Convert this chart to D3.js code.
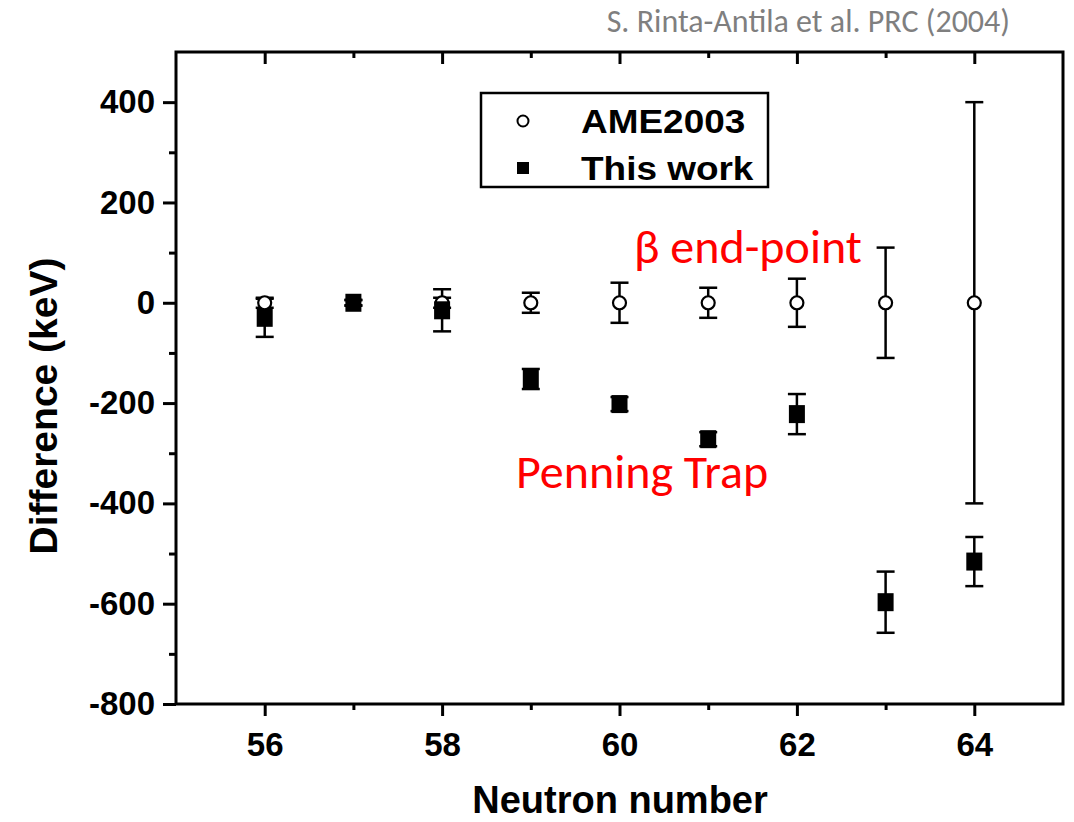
<!DOCTYPE html>
<html>
<head>
<meta charset="utf-8">
<script src="https://cdn.jsdelivr.net/npm/d3@7"></script>
<style>
  html, body { margin: 0; padding: 0; background: #fff; }
  svg { display: block; }
</style>
</head>
<body>
<svg id="chart" width="1074" height="822"></svg>
<script>
// ---- data ----
const neutrons = [56, 57, 58, 59, 60, 61, 62, 63, 64];
const ameValues = [0, 0, 0, 0, 0, 0, 0, 0, 0];
const ameErrors = [10, 5, 10, 20, 40, 30, 48, 110, 400];
const workValues = [-30, 0, -15, -152, -202, -272, -222, -597, -516];
const workErrors = [38, 6, 42, 20, 14, 14, 40, 61, 49];
const xMajorTicks = [56, 58, 60, 62, 64];
const xMinorTicks = [57, 59, 61, 63];
const yMajorTicks = [-800, -600, -400, -200, 0, 200, 400];
const yMinorTicks = [-700, -500, -300, -100, 100, 300];
const legendLabels = ["AME2003", "This work"];
const xTitle = "Neutron number";
const yTitle = "Difference (keV)";
const annotationTop = "β end-point";
const annotationBottom = "Penning Trap";
const citation = "S. Rinta-Antila et al. PRC (2004)";

// ---- layout ----
const svg = d3.select("#chart");
const plotLeft = 176, plotRight = 1063, plotTop = 52, plotBottom = 704;
const x = d3.scaleLinear().domain([55, 65]).range([plotLeft, plotRight]);
const y = d3.scaleLinear().domain([-800, 500]).range([plotBottom, plotTop]);
const axisFont = "'Liberation Sans', Arial, Helvetica, sans-serif";
const noteFont = "Carlito, Calibri, Lato, sans-serif";

// ---- axes ----
const axW = 3;
function styleAxis(g) {
  g.select(".domain").remove();
  g.selectAll(".tick line").attr("stroke", "#000").attr("stroke-width", axW);
  g.selectAll(".tick text").attr("fill", "#000")
    .attr("font-family", axisFont).attr("font-weight", "bold");
}

// bottom axis
const gx = svg.append("g").attr("transform", `translate(0,${plotBottom})`)
  .call(d3.axisBottom(x).tickValues(xMajorTicks).tickSize(12).tickPadding(17).tickFormat(d => String(d)));
styleAxis(gx);
gx.selectAll(".tick text").attr("font-size", 33);
svg.append("g").attr("transform", `translate(0,${plotBottom})`)
  .call(d3.axisBottom(x).tickValues(xMinorTicks).tickSize(6).tickFormat(""))
  .call(styleAxis);

// top axis (inward ticks)
svg.append("g").attr("transform", `translate(0,${plotTop})`)
  .call(d3.axisBottom(x).tickValues(xMajorTicks).tickSize(12).tickFormat(""))
  .call(styleAxis);
svg.append("g").attr("transform", `translate(0,${plotTop})`)
  .call(d3.axisBottom(x).tickValues(xMinorTicks).tickSize(6).tickFormat(""))
  .call(styleAxis);

// left axis
const gy = svg.append("g").attr("transform", `translate(${plotLeft},0)`)
  .call(d3.axisLeft(y).tickValues(yMajorTicks).tickSize(13).tickPadding(8).tickFormat(d => String(d)));
styleAxis(gy);
gy.selectAll(".tick text").attr("font-size", 33);
svg.append("g").attr("transform", `translate(${plotLeft},0)`)
  .call(d3.axisLeft(y).tickValues(yMinorTicks).tickSize(7).tickFormat(""))
  .call(styleAxis);

// frame
svg.append("rect")
  .attr("x", plotLeft).attr("y", plotTop)
  .attr("width", plotRight - plotLeft).attr("height", plotBottom - plotTop)
  .attr("fill", "none").attr("stroke", "#000").attr("stroke-width", axW);

// ---- axis titles ----
svg.append("text")
  .attr("x", 620).attr("y", 813)
  .attr("text-anchor", "middle")
  .attr("font-family", axisFont).attr("font-weight", "bold").attr("font-size", 38)
  .text(xTitle);
svg.append("text")
  .attr("transform", `translate(57,406) rotate(-90)`)
  .attr("text-anchor", "middle")
  .attr("font-family", axisFont).attr("font-weight", "bold").attr("font-size", 39)
  .text(yTitle);

// ---- data marks ----
const capW = 18;
function errorBars(values, errors, cls) {
  const g = svg.append("g").attr("class", cls).attr("stroke", "#000").attr("stroke-width", 2.5);
  neutrons.forEach((n, i) => {
    const v = values[i], e = errors[i];
    const cx = x(n);
    g.append("line").attr("x1", cx).attr("x2", cx).attr("y1", y(v + e)).attr("y2", y(v - e));
    g.append("line").attr("x1", cx - capW / 2).attr("x2", cx + capW / 2).attr("y1", y(v + e)).attr("y2", y(v + e));
    g.append("line").attr("x1", cx - capW / 2).attr("x2", cx + capW / 2).attr("y1", y(v - e)).attr("y2", y(v - e));
  });
}
errorBars(ameValues, ameErrors, "ame-err");
errorBars(workValues, workErrors, "work-err");

svg.append("g").selectAll("circle")
  .data(neutrons)
  .join("circle")
  .attr("cx", d => x(d))
  .attr("cy", (d, i) => y(ameValues[i]))
  .attr("r", 6.5)
  .attr("fill", "#fff").attr("stroke", "#000").attr("stroke-width", 2.2);

const sqW = 16, sqH = 18;
svg.append("g").selectAll("rect")
  .data(neutrons)
  .join("rect")
  .attr("x", d => x(d) - sqW / 2)
  .attr("y", (d, i) => y(workValues[i]) - sqH / 2)
  .attr("width", sqW).attr("height", sqH)
  .attr("fill", "#000");

// ---- legend ----
const lg = svg.append("g");
lg.append("rect").attr("x", 481).attr("y", 93).attr("width", 287).attr("height", 94)
  .attr("fill", "#fff").attr("stroke", "#000").attr("stroke-width", 2.5);
lg.append("circle").attr("cx", 523).attr("cy", 121).attr("r", 5.5)
  .attr("fill", "#fff").attr("stroke", "#000").attr("stroke-width", 2);
lg.append("rect").attr("x", 517).attr("y", 162).attr("width", 12).attr("height", 12).attr("fill", "#000");
lg.selectAll("text.leg").data(legendLabels).join("text")
  .attr("class", "leg")
  .attr("transform", (d, i) => `translate(581,${133 + i * 47}) scale(1.12,1)`)
  .attr("font-family", axisFont).attr("font-weight", "bold").attr("font-size", 33)
  .text(d => d);

// ---- annotations ----
svg.append("text").attr("x", 634).attr("y", 263)
  .attr("font-family", noteFont).attr("font-size", 48).attr("fill", "#ff0000")
  .text(annotationTop);
svg.append("text").attr("x", 516).attr("y", 488)
  .attr("font-family", noteFont).attr("font-size", 48).attr("fill", "#ff0000")
  .text(annotationBottom);
svg.append("text").attr("x", 1010).attr("y", 32)
  .attr("text-anchor", "end")
  .attr("font-family", noteFont).attr("font-size", 32).attr("fill", "#7f7f7f")
  .text(citation);
</script>
</body>
</html>
